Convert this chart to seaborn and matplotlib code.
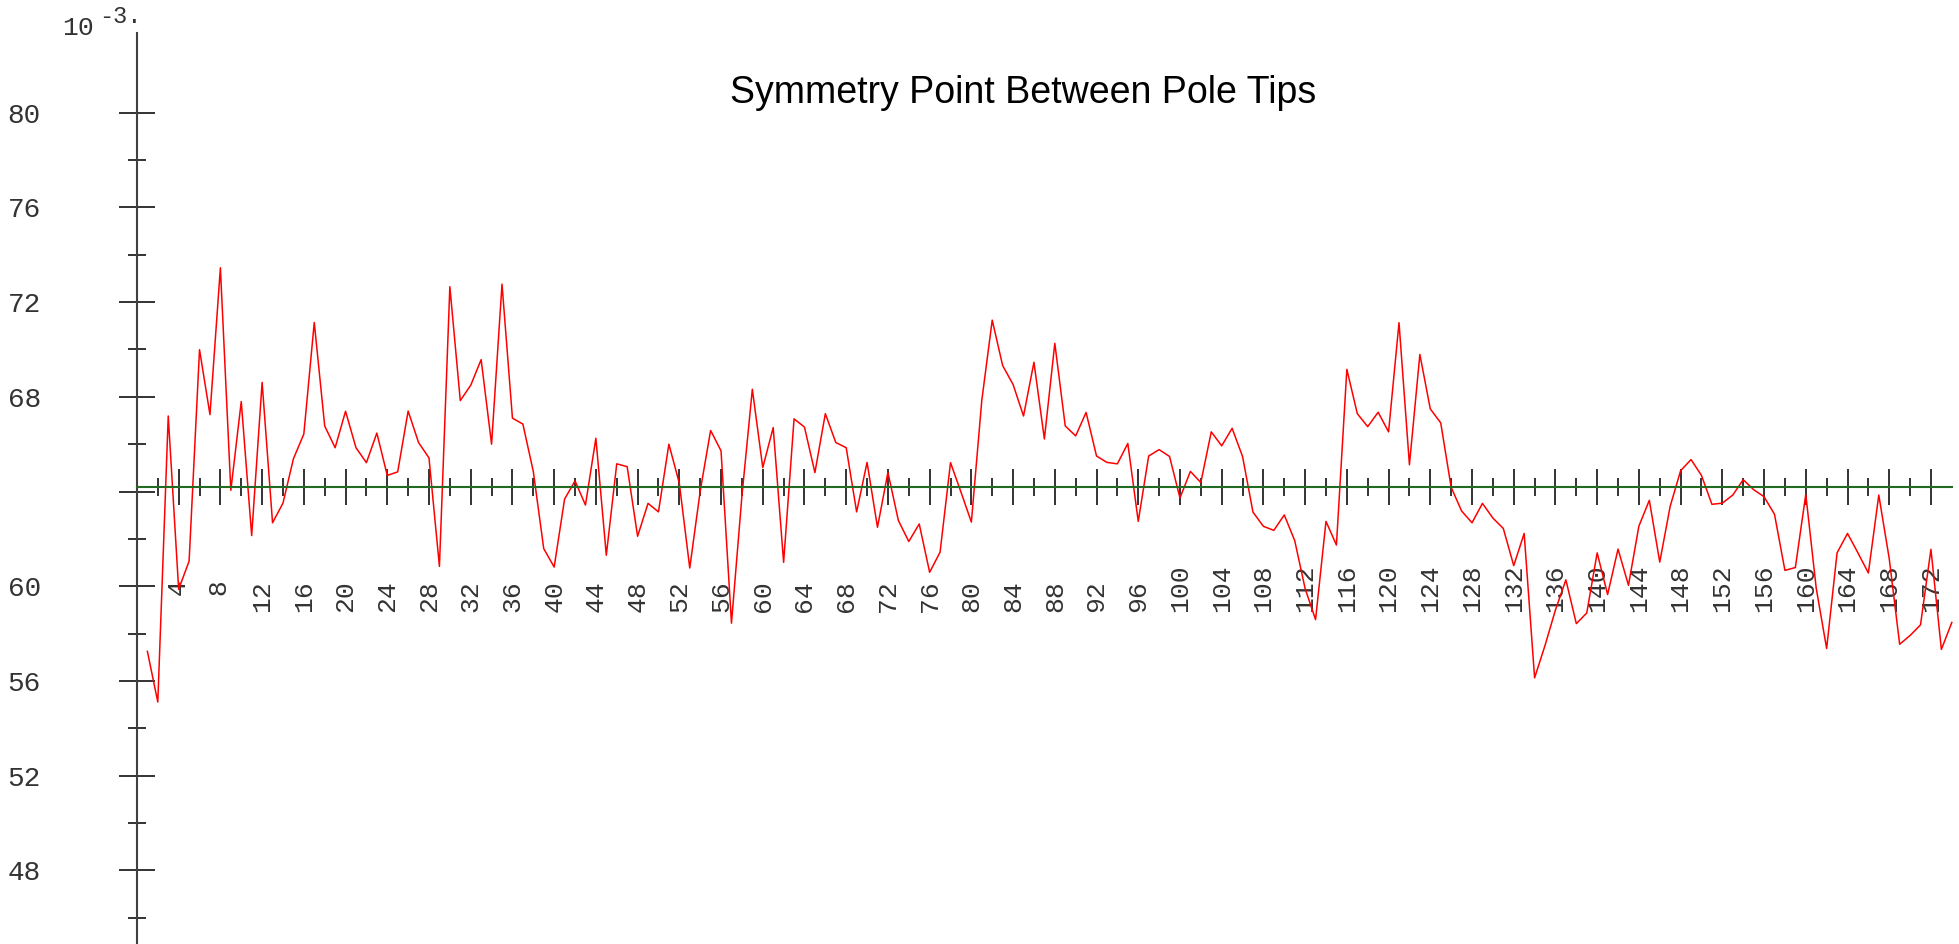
import numpy as np
import pandas as pd
import matplotlib
matplotlib.use("Agg")
import matplotlib.pyplot as plt
import seaborn as sns

# readings, in units of 1e-3
values = [
    57.25, 55.11, 67.19, 59.87, 61.06, 69.99, 67.25, 73.45, 64.05, 67.80,
    62.14, 68.61, 62.68, 63.51, 65.38, 66.43, 71.14, 66.77, 65.85, 67.39,
    65.85, 65.22, 66.47, 64.68, 64.83, 67.40, 66.07, 65.42, 60.84, 72.65,
    67.84, 68.49, 69.57, 66.00, 72.76, 67.10, 66.85, 64.85, 61.59, 60.81,
    63.68, 64.45, 63.43, 66.25, 61.31, 65.17, 65.05, 62.11, 63.50, 63.14,
    66.00, 64.35, 60.77, 64.01, 66.58, 65.72, 58.44, 63.80, 68.32, 65.01,
    66.70, 61.01, 67.07, 66.72, 64.80, 67.29, 66.07, 65.85, 63.14, 65.23,
    62.49, 64.81, 62.78, 61.89, 62.63, 60.59, 61.44, 65.22, 63.98, 62.71,
    67.85, 71.24, 69.32, 68.52, 67.19, 69.46, 66.22, 70.26, 66.77, 66.35,
    67.34, 65.50, 65.23, 65.17, 66.03, 62.74, 65.50, 65.77, 65.48, 63.73,
    64.85, 64.38, 66.52, 65.93, 66.67, 65.48, 63.13, 62.53, 62.36, 63.01,
    61.93, 59.90, 58.59, 62.74, 61.74, 69.16, 67.29, 66.74, 67.35, 66.52,
    71.13, 65.13, 69.79, 67.49, 66.90, 64.18, 63.18, 62.68, 63.50, 62.88,
    62.44, 60.87, 62.23, 56.13, 57.50, 59.00, 60.27, 58.42, 58.87, 61.41,
    59.65, 61.57, 60.04, 62.54, 63.63, 61.02, 63.38, 64.88, 65.35, 64.68,
    63.46, 63.51, 63.85, 64.50, 64.08, 63.78, 63.04, 60.67, 60.79, 63.88,
    59.92, 57.37, 61.41, 62.23, 61.41, 60.56, 63.85, 61.17, 57.55, 57.92,
    58.37, 61.56, 57.33, 58.47,
]
index = list(range(1, len(values) + 1))
symmetry_level = 64.18

y_major = [48, 52, 56, 60, 64, 68, 72, 76, 80]
y_major_labels = ["48", "52", "56", "60", "", "68", "72", "76", "80"]
y_minor = [46, 50, 54, 58, 62, 66, 70, 74, 78]
x_major = list(range(4, 173, 4))
x_minor = list(range(2, 171, 4))

title = "Symmetry Point Between Pole Tips"

df = pd.DataFrame({"index": index, "value": values})

fig = plt.figure(figsize=(19.59, 9.44), dpi=100)
ax = fig.add_axes([0, 0, 1, 1])
ax.set_facecolor("white")

sns.lineplot(data=df, x="index", y="value", color="#ff0000", linewidth=1.1, ax=ax)

ax.set_xlim(-13.13, 174.69)
ax.set_ylim(44.89, 84.76)
ax.set_xlabel("")
ax.set_ylabel("")

for side in ["top", "right"]:
    ax.spines[side].set_visible(False)
ax.spines["left"].set_position(("data", 0))
ax.spines["left"].set_bounds(44.89, 83.37)
ax.spines["left"].set_color("#404040")
ax.spines["left"].set_linewidth(1.5)
ax.spines["bottom"].set_position(("data", symmetry_level))
ax.spines["bottom"].set_bounds(0, len(values))
ax.spines["bottom"].set_color("#236b23")
ax.spines["bottom"].set_linewidth(1.5)
ax.spines["bottom"].set_zorder(3)

mono = "Liberation Mono"
ax.set_yticks(y_major, labels=y_major_labels, fontsize=20, family=mono, color="#333333")
ax.set_yticks(y_minor, minor=True)
ax.set_xticks(x_major, labels=[f"{v:2d}" for v in x_major], rotation=90,
              va="bottom", fontsize=19, family=mono, color="#333333")
ax.set_xticks(x_minor, minor=True)

ax.tick_params(axis="both", which="major", direction="inout", length=25.9,
               width=1.4, color="#333333")
ax.tick_params(axis="both", which="minor", direction="inout", length=13,
               width=1.4, color="#333333")
ax.tick_params(axis="y", which="major", pad=56.3)
ax.tick_params(axis="x", which="major", pad=76.7)

fig.text(1022.7 / 1959, 1 - 103 / 944, title, ha="center", va="baseline",
         fontsize=27, family="Liberation Sans", color="black")
fig.text(62 / 1959, 1 - 35 / 944, "10", ha="left", va="baseline",
         fontsize=19, family=mono, color="#333333")
fig.text(99 / 1959, 1 - 23 / 944, "-3.", ha="left", va="baseline",
         fontsize=17, family=mono, color="#333333")

fig.savefig("out.png", dpi=100, facecolor="white")
